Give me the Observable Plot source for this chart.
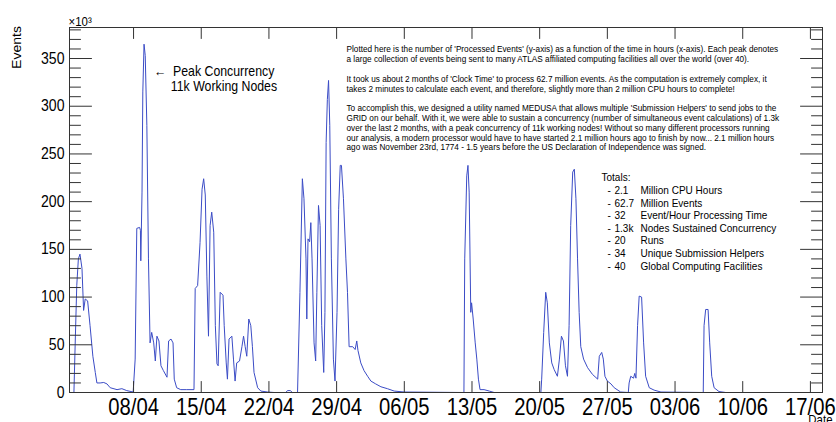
<!DOCTYPE html>
<html>
<head>
<meta charset="utf-8">
<script src="https://cdn.jsdelivr.net/npm/d3@7"></script>
<script src="https://cdn.jsdelivr.net/npm/@observablehq/plot@0.6"></script>
<style>
html, body { margin: 0; padding: 0; background: #ffffff; }
</style>
</head>
<body>
<div id="chart"></div>
<script>
// ---- data (values in thousands of events) ----
const times = [
"2013-04-01 20:00","2013-04-01 23:00","2013-04-02 03:00","2013-04-02 07:00","2013-04-02 11:00","2013-04-02 16:00","2013-04-02 20:00",
"2013-04-03 00:00","2013-04-03 06:00","2013-04-03 12:00","2013-04-03 19:00","2013-04-04 01:00","2013-04-04 05:00","2013-04-04 13:00",
"2013-04-04 22:00","2013-04-05 06:00","2013-04-05 14:00","2013-04-06 07:00","2013-04-06 19:00","2013-04-07 07:00","2013-04-07 23:00",
"2013-04-08 04:00","2013-04-08 08:00","2013-04-08 15:00","2013-04-08 17:00","2013-04-08 18:00","2013-04-08 21:00","2013-04-08 23:00",
"2013-04-09 02:00","2013-04-09 05:00","2013-04-09 09:00","2013-04-09 13:00","2013-04-09 17:00","2013-04-09 21:00","2013-04-10 02:00",
"2013-04-10 06:00","2013-04-10 10:00","2013-04-10 15:00","2013-04-10 20:00","2013-04-11 02:00","2013-04-11 11:00","2013-04-11 15:00",
"2013-04-11 21:00","2013-04-12 02:00","2013-04-12 05:00","2013-04-12 11:00","2013-04-12 21:00","2013-04-13 12:00","2013-04-14 06:00",
"2013-04-14 09:00","2013-04-14 15:00","2013-04-14 21:00","2013-04-15 02:00","2013-04-15 06:00","2013-04-15 10:00","2013-04-15 14:00",
"2013-04-15 18:00","2013-04-15 22:00","2013-04-16 02:00","2013-04-16 07:00","2013-04-16 11:00","2013-04-16 15:00","2013-04-16 18:00",
"2013-04-16 23:00","2013-04-17 06:00","2013-04-17 09:00","2013-04-17 14:00","2013-04-17 17:00","2013-04-17 21:00","2013-04-18 04:00",
"2013-04-18 08:00","2013-04-18 12:00","2013-04-18 16:00","2013-04-18 23:00","2013-04-19 05:00","2013-04-19 09:00","2013-04-19 13:00",
"2013-04-19 17:00","2013-04-19 22:00","2013-04-20 03:00","2013-04-20 07:00","2013-04-20 11:00","2013-04-20 20:00","2013-04-21 04:00",
"2013-04-21 21:00","2013-04-22 13:00","2013-04-23 18:00","2013-04-23 22:00","2013-04-24 05:00","2013-04-24 10:00","2013-04-24 23:00",
"2013-04-25 05:00","2013-04-25 11:00","2013-04-25 15:00","2013-04-25 20:00","2013-04-25 22:00","2013-04-26 01:00","2013-04-26 05:00",
"2013-04-26 08:00","2013-04-26 11:00","2013-04-26 16:00","2013-04-26 20:00","2013-04-26 23:00","2013-04-27 03:00","2013-04-27 07:00",
"2013-04-27 11:00","2013-04-27 16:00","2013-04-27 19:00","2013-04-27 22:00","2013-04-28 01:00","2013-04-28 04:00","2013-04-28 07:00",
"2013-04-28 11:00","2013-04-28 16:00","2013-04-28 20:00","2013-04-29 01:00","2013-04-29 05:00","2013-04-29 09:00","2013-04-29 12:00",
"2013-04-29 17:00","2013-04-29 23:00","2013-04-30 03:00","2013-04-30 07:00","2013-04-30 16:00","2013-04-30 22:00","2013-05-01 02:00",
"2013-05-01 05:00","2013-05-01 12:00","2013-05-01 20:00","2013-05-02 05:00","2013-05-02 13:00","2013-05-03 01:00","2013-05-03 14:00",
"2013-05-04 06:00","2013-05-04 23:00","2013-05-06 00:00","2013-05-12 04:00","2013-05-12 06:00","2013-05-12 11:00","2013-05-12 14:00",
"2013-05-12 17:00","2013-05-12 21:00","2013-05-12 23:00","2013-05-13 03:00","2013-05-13 08:00","2013-05-13 12:00","2013-05-13 16:00",
"2013-05-13 20:00","2013-05-14 06:00","2013-05-14 19:00","2013-05-15 07:00","2013-05-20 03:00","2013-05-20 05:00","2013-05-20 10:00",
"2013-05-20 15:00","2013-05-20 19:00","2013-05-21 00:00","2013-05-21 06:00","2013-05-21 12:00","2013-05-21 20:00","2013-05-22 01:00",
"2013-05-22 06:00","2013-05-22 11:00","2013-05-22 16:00","2013-05-22 21:00","2013-05-23 01:00","2013-05-23 05:00","2013-05-23 10:00",
"2013-05-23 14:00","2013-05-23 18:00","2013-05-23 22:00","2013-05-24 02:00","2013-05-24 06:00","2013-05-24 13:00","2013-05-24 23:00",
"2013-05-25 11:00","2013-05-26 00:00","2013-05-26 04:00","2013-05-26 10:00","2013-05-26 14:00","2013-05-26 18:00","2013-05-27 00:00",
"2013-05-27 09:00","2013-05-27 17:00","2013-05-28 09:00","2013-05-29 04:00","2013-05-29 06:00","2013-05-29 10:00","2013-05-29 17:00",
"2013-05-29 20:00","2013-05-29 23:00","2013-05-30 03:00","2013-05-30 07:00","2013-05-30 13:00","2013-05-30 18:00","2013-05-30 23:00",
"2013-05-31 08:00","2013-05-31 20:00","2013-06-01 13:00","2013-06-05 22:00","2013-06-06 00:00","2013-06-06 04:00","2013-06-06 10:00",
"2013-06-06 14:00","2013-06-06 19:00","2013-06-07 01:00","2013-06-07 13:00","2013-06-08 06:00","2013-06-18 04:00"
];
const events = [
0,49,112,140,145,130,86,
98,96,70,38,21,10,10,
10.5,9,5,3,4,2,0.5,
35,172,173,170,138,210,315,
365,353,280,140,52,63,52,
33,59,54,28,23,16,54,
56,52,14,5,3,3,3,
109,112,157,213,224,207,122,
59,175,189,168,70,30,28,
105,102,70,31,14,56,59,
35,12,31,33,48,59,48,
38,77,70,48,21,5,1.5,
0.5,0,0,2,2,0,0,
105,224,203,140,77,161,158,
178,140,52,33,105,196,175,
70,21,84,262,307,327,280,
140,35,12,84,192,238,238,
203,140,105,48,48,45,54,
44,31,23,17,12,9,6,
4,1.5,0.5,0,140,227,238,
210,84,94,77,52,35,14,
3,3,1.5,0,0,14,63,
105,94,52,31,24,17,35,
59,54,28,17,70,175,231,
234,203,140,84,48,35,26,
19,14,38,42,35,17,12,
9,5,0.5,0,10,17,15,
20,15,70,101,100,52,17,
5,2.5,0.5,0,70,87,87,
52,17,5,1,0,0
];

const xTickDates = ["2013-04-08","2013-04-15","2013-04-22","2013-04-29","2013-05-06","2013-05-13",
                    "2013-05-20","2013-05-27","2013-06-03","2013-06-10","2013-06-17"];
const yMajorTicks = [0, 50, 100, 150, 200, 250, 300, 350];
const yMinorTicks = [10,20,30,40,60,70,80,90,110,120,130,140,160,170,180,190,210,220,230,240,
                     260,270,280,290,310,320,330,340,360,370,380];

const infoLines = [
"Plotted here is the number of 'Processed Events' (y-axis) as a function of the time in hours (x-axis). Each peak denotes",
"a large collection of events being sent to many ATLAS affiliated computing facilities all over the world (over 40).",
"",
"It took us about 2 months of 'Clock Time' to process 62.7 million events. As the computation is extremely complex, it",
"takes 2 minutes to calculate each event, and therefore, slightly more than 2 million CPU hours to complete!",
"",
"To accomplish this, we designed a utility named MEDUSA that allows multiple 'Submission Helpers' to send jobs to the",
"GRID on our behalf. With it, we were able to sustain a concurrency (number of simultaneous event calculations) of 1.3k",
"over the last 2 months, with a peak concurrency of 11k working nodes! Without so many different processors running",
"our analysis, a modern processor would have to have started 2.1 million hours ago to finish by now... 2.1 million hours",
"ago was November 23rd, 1774 - 1.5 years before the US Declaration of Independence was signed."
];
const totalsTitle = "Totals:";
const totalsValues = ["2.1", "62.7", "32", "1.3k", "20", "34", "40"];
const totalsLabels = ["Million CPU Hours", "Million Events", "Event/Hour Processing Time",
                      "Nodes Sustained Concurrency", "Runs", "Unique Submission Helpers",
                      "Global Computing Facilities"];
const peakNoteText = ["\u2190  Peak Concurrency", "11k Working Nodes"];
const peakNoteTimes = ["2013-04-10 02:30", "2013-04-11 20:30"];
const peakNoteValues = [332, 316];

// ---- build ----
const parseT = d3.utcParse("%Y-%m-%d %H:%M");
const parseD = d3.utcParse("%Y-%m-%d");
const series = times.map((t, i) => ({t: parseT(t), v: events[i]}));
const xTicks = xTickDates.map(parseD);
const notes = peakNoteText.map((s, i) => ({s, t: parseT(peakNoteTimes[i]), v: peakNoteValues[i]}));

const lineColor = "#3b4cc6";
const axisColor = "#333333";
const tickLine = {draw(ctx, l) { ctx.moveTo(0, 0); ctx.lineTo(0, -l); }};
const tk = (data, o) => Plot.vector(data, {anchor: "start", shape: tickLine, stroke: axisColor, strokeWidth: 1, ...o});
const totFont = 11.4, totLH = 12.6 / 11.4;

const chart = Plot.plot({
  width: 836,
  height: 422,
  marginLeft: 69,
  marginRight: 14,
  marginTop: 27,
  marginBottom: 30,
  style: {fontFamily: "'Liberation Sans', Arial, Helvetica, sans-serif", background: "#ffffff", color: "#000000"},
  x: {type: "utc", domain: [parseT("2013-04-01 09:00"), parseT("2013-06-18 06:00")]},
  y: {domain: [0, 382.5]},
  marks: [
    Plot.line(series, {x: "t", y: "v", stroke: lineColor, strokeWidth: 1}),
    Plot.frame({stroke: axisColor, strokeWidth: 1}),
    tk(yMajorTicks, {y: d => d, frameAnchor: "left", rotate: 90, length: 22}),
    tk(yMinorTicks, {y: d => d, frameAnchor: "left", rotate: 90, length: 11}),
    tk(yMajorTicks, {y: d => d, frameAnchor: "right", rotate: -90, length: 22}),
    tk(yMinorTicks, {y: d => d, frameAnchor: "right", rotate: -90, length: 11}),
    tk(xTicks, {x: d => d, frameAnchor: "bottom", rotate: 0, length: 11}),
    tk(xTicks, {x: d => d, frameAnchor: "top", rotate: 180, length: 11}),
    Plot.axisY({ticks: yMajorTicks, tickSize: 0, tickPadding: 5, fontSize: 16, label: null, anchor: "left"}),
    Plot.axisX({ticks: xTicks, tickFormat: d3.utcFormat("%d/%m"), tickSize: 0, tickPadding: 6, fontSize: 23, label: null, anchor: "bottom"}),
    Plot.text(["Events"], {text: d => d, frameAnchor: "top-left", dx: -52, dy: 20, rotate: -90, fontSize: 14, textAnchor: "middle", lineAnchor: "middle"}),
    Plot.text(["\u00d710\u00b3"], {text: d => d, frameAnchor: "top-left", dx: -1, dy: -2, fontSize: 13, textAnchor: "start", lineAnchor: "bottom"}),
    Plot.text(["Date"], {text: d => d, frameAnchor: "bottom-right", dx: 10, dy: 31, fontSize: 13, textAnchor: "end", lineAnchor: "bottom"}),
    Plot.text(notes, {x: "t", y: "v", text: "s", fontSize: 14, textAnchor: "start", lineAnchor: "bottom"}),
    Plot.text([infoLines.join("\n")], {text: d => d, frameAnchor: "top-left", dx: 277, dy: 18, fontSize: 9.35, lineHeight: 1.048, textAnchor: "start", lineAnchor: "top"}),
    Plot.text([totalsTitle], {text: d => d, frameAnchor: "top-left", dx: 532, dy: 153.5, fontSize: totFont, textAnchor: "start", lineAnchor: "bottom"}),
    Plot.text([totalsValues.map(() => "-").join("\n")], {text: d => d, frameAnchor: "top-left", dx: 538, dy: 157.5, fontSize: totFont, lineHeight: totLH, textAnchor: "start", lineAnchor: "top"}),
    Plot.text([totalsValues.join("\n")], {text: d => d, frameAnchor: "top-left", dx: 545, dy: 157.5, fontSize: totFont, lineHeight: totLH, textAnchor: "start", lineAnchor: "top"}),
    Plot.text([totalsLabels.join("\n")], {text: d => d, frameAnchor: "top-left", dx: 571, dy: 157.5, fontSize: totFont, lineHeight: totLH, textAnchor: "start", lineAnchor: "top"})
  ]
});
document.getElementById("chart").appendChild(chart);

// Condense all text horizontally (reference typography is narrow), keeping each text's anchor fixed.
(function condense(svg, k) {
  const ns = "http://www.w3.org/2000/svg";
  const sr = svg.getBoundingClientRect();
  Array.from(svg.querySelectorAll("text")).forEach(t => {
    const r = t.getBoundingClientRect();
    if (!r.width) return;
    const anchor = getComputedStyle(t).textAnchor;
    const rotated = (t.getAttribute("transform") || "").includes("rotate");
    let ax = rotated || anchor === "middle" ? (r.left + r.right) / 2 : anchor === "end" ? r.right : r.left;
    ax -= sr.left;
    const ctm = t.parentNode.getCTM();
    const lx = ax - (ctm ? ctm.e : 0);
    const g = document.createElementNS(ns, "g");
    g.setAttribute("transform", `translate(${lx},0) scale(${k},1) translate(${-lx},0)`);
    t.parentNode.insertBefore(g, t);
    g.appendChild(t);
  });
})(chart, 0.88);
</script>
</body>
</html>
